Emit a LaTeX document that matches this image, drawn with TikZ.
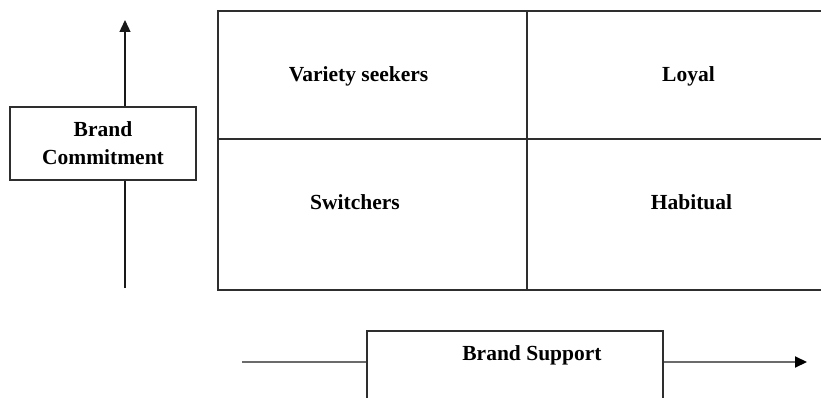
\documentclass[tikz,border=0pt]{standalone}
\usepackage{fontspec}
\setmainfont{Liberation Serif}
\usetikzlibrary{arrows.meta}
\begin{document}
\begin{tikzpicture}[x=1pt,y=-1pt,
  frame/.style={draw=black!82, line width=1.5pt},
  label/.style={font=\bfseries\fontsize{21.5}{28}\selectfont, inner sep=0pt, align=center},
  axis/.style={draw=black!90, line width=1.3pt},
  hline/.style={draw=black!58, line width=2pt},
  tip/.style={-{Triangle[length=12pt,width=11pt]}},
  darktip/.style={-{Triangle[length=12pt,width=11pt,color=black]}}]
\useasboundingbox (0,0) rectangle (821,398);

% segmentation grid (open towards the right edge)
\draw[frame] (821,11) -- (218,11) -- (218,290) -- (821,290);
\draw[frame] (218,139) -- (821,139);
\draw[frame] (527,11) -- (527,290);

% quadrant labels
\node[label, anchor=base] (variety)  at (358.5,82)  {Variety seekers};
\node[label, anchor=base] (loyal)    at (688.5,82)  {Loyal};
\node[label, anchor=base] (switch)   at (355,209)   {Switchers};
\node[label, anchor=base] (habit)    at (691.5,209) {Habitual};

% vertical axis: brand commitment
\node[frame, label, minimum width=186pt, minimum height=73pt] (commit) at (103,143.5) {Brand\\Commitment};
\coordinate (vbot) at (125,288);
\coordinate (vtop) at (125,20);
\draw[axis] (vbot) -- (vbot |- commit.south);
\draw[axis, tip] (vbot |- commit.north) -- (vtop);

% horizontal axis: brand support
\node[frame, minimum width=296pt, minimum height=90pt, anchor=north west, inner sep=0pt] (supportbox) at (366,330) {};
\node[label, anchor=base] (support) at (532,360) {Brand Support};
\coordinate (hstart) at (242,362);
\coordinate (hend) at (807,362);
\draw[hline] (hstart) -- (hstart -| supportbox.west);
\draw[hline, darktip] (hstart -| supportbox.east) -- (hend);
\end{tikzpicture}
\end{document}
